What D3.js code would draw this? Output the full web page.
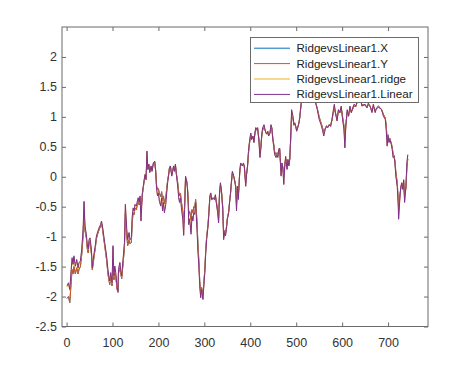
<!DOCTYPE html>
<html><head><meta charset="utf-8">
<script src="https://cdn.jsdelivr.net/npm/d3@7"></script>
<style>body{margin:0;background:#fff}svg{display:block}</style>
</head><body><svg id="c" width="474" height="367"></svg>
<script>
const seriesNames = ["RidgevsLinear1.X","RidgevsLinear1.Y","RidgevsLinear1.ridge","RidgevsLinear1.Linear"];
const xTicks = [0,100,200,300,400,500,600,700];
const yTicks = [-2.5,-2,-1.5,-1,-0.5,0,0.5,1,1.5,2];
const yTickLabels = ["-2.5","-2","-1.5","-1","-0.5","0","0.5","1","1.5","2"];
const sampleIndex = [1,4,7,10,12,14,16,19,22,25,27,30,33,36,38,40,43,45,47,49,51,54,56,58,60,62,65,68,71,74,76,78,81,83,85,87,90,92,94,96,99,101,103,105,107,110,112,113,116,118,120,123,126,128,131,133,136,138,141,143,145,147,149,152,154,156,158,160,162,165,167,169,171,173,175,177,179,181,184,186,189,192,194,196,198,200,202,205,207,209,211,213,216,218,220,222,224,226,229,231,233,235,237,239,242,244,246,248,250,253,255,257,259,261,263,265,266,268,271,273,275,277,279,281,284,286,288,290,292,294,297,299,301,303,305,308,310,312,314,316,319,322,324,327,329,331,333,335,337,340,342,344,346,348,350,353,355,357,359,361,364,366,368,370,372,374,377,379,381,383,385,387,390,392,394,396,398,401,403,406,408,410,412,414,416,419,421,423,425,427,430,432,434,436,438,440,443,445,447,449,451,453,456,458,460,462,464,467,469,471,473,475,477,480,482,484,486,488,490,493,495,497,499,501,504,506,508,510,512,517,521,525,530,534,538,543,546,550,554,557,560,563,566,569,572,575,578,580,583,586,589,592,595,598,601,604,606,608,611,614,617,620,623,626,630,634,638,643,650,654,657,661,665,668,672,675,679,683,686,690,694,696,698,700,702,704,707,709,711,713,715,717,720,722,723,726,728,730,732,734,736,739,741,743];
const valuesLinear = [-1.82,-1.77,-1.88,-1.55,-1.35,-1.46,-1.32,-1.49,-1.38,-1.52,-1.43,-1.41,-1.21,-0.88,-0.41,-0.82,-0.96,-1.13,-1.21,-1.05,-1.02,-1.21,-1.52,-1.38,-1.27,-1.18,-0.99,-0.91,-0.85,-0.80,-0.74,-0.82,-0.99,-1.10,-1.21,-1.32,-1.55,-1.66,-1.74,-1.60,-1.77,-1.15,-1.66,-1.49,-1.60,-1.85,-1.91,-1.55,-1.43,-1.57,-1.66,-1.38,-1.10,-0.46,-0.88,-1.05,-0.93,-1.05,-1.02,-0.66,-0.52,-0.57,-0.46,-0.49,-0.41,-0.35,-0.43,-0.32,-0.74,-0.27,-0.16,-0.05,0.04,-0.05,0.43,0.12,0.21,0.07,0.18,0.09,0.23,0.26,0.09,-0.21,-0.32,-0.27,-0.41,-0.49,-0.35,-0.57,-0.43,-0.60,-0.46,-0.27,-0.10,0.01,0.15,0.18,0.01,0.09,0.18,0.09,0.21,0.04,-0.16,-0.35,-0.43,-0.35,-0.52,-0.71,-0.98,-0.55,0.01,-0.05,-0.18,-0.49,-0.80,-0.71,-0.96,-0.66,-0.74,-0.60,-0.63,-0.43,-0.88,-1.24,-1.49,-1.82,-2.02,-1.88,-2.05,-1.80,-1.60,-1.27,-1.05,-0.82,-0.60,-0.32,-0.27,-0.38,-0.35,-0.38,-0.30,-0.49,-0.60,-0.77,-0.27,-0.10,-0.21,-0.55,-1.05,-0.93,-0.99,-0.88,-0.71,-0.60,-0.41,-0.27,-0.07,0.09,0.01,-0.07,-0.16,-0.57,-0.16,-0.38,0.09,0.23,0.21,0.18,0.23,0.18,-0.16,0.04,0.18,0.42,0.57,0.73,0.62,0.68,0.57,0.73,0.82,0.79,0.82,0.57,0.32,0.46,0.71,0.82,0.87,0.79,0.73,0.71,0.76,0.68,0.73,0.87,0.82,0.62,0.51,0.37,0.32,0.37,0.32,0.46,0.48,0.01,0.23,0.12,-0.13,0.18,0.34,0.12,0.29,0.18,0.29,0.68,1.12,1.01,0.87,0.90,0.84,0.76,0.84,0.90,1.01,1.18,1.29,1.42,1.54,1.42,1.56,1.46,1.34,1.21,1.12,0.96,0.87,0.79,0.68,0.79,0.84,0.82,0.87,0.84,0.96,1.07,1.21,1.04,0.93,1.12,1.07,1.18,0.96,0.79,0.48,0.84,1.12,1.01,1.18,1.07,1.15,1.21,1.18,1.32,1.39,1.18,1.21,1.15,1.23,1.18,1.07,1.21,1.07,1.15,1.18,1.15,1.12,1.01,0.96,0.79,0.51,0.68,0.57,0.62,0.54,0.46,0.32,0.34,0.23,0.01,-0.16,-0.43,-0.71,-0.32,-0.16,-0.10,-0.21,-0.05,-0.43,-0.16,0.23,0.37];
const valuesY = [-2.03,-2.00,-2.10,-1.75,-1.55,-1.62,-1.50,-1.62,-1.52,-1.62,-1.55,-1.50,-1.30,-0.98,-0.55,-0.90,-1.02,-1.20,-1.27,-1.10,-1.08,-1.28,-1.55,-1.45,-1.32,-1.22,-1.03,-0.95,-0.88,-0.83,-0.78,-0.86,-1.04,-1.15,-1.27,-1.38,-1.62,-1.72,-1.80,-1.66,-1.82,-1.40,-1.72,-1.55,-1.66,-1.88,-1.93,-1.62,-1.50,-1.62,-1.70,-1.45,-1.18,-0.62,-0.98,-1.15,-1.05,-1.12,-1.10,-0.75,-0.60,-0.63,-0.52,-0.55,-0.46,-0.40,-0.47,-0.36,-0.58,-0.30,-0.18,-0.07,0.02,-0.03,0.32,0.14,0.20,0.08,0.17,0.10,0.22,0.24,0.10,-0.15,-0.22,-0.20,-0.28,-0.33,-0.25,-0.40,-0.32,-0.45,-0.35,-0.20,-0.06,0.03,0.14,0.17,0.04,0.10,0.17,0.10,0.19,0.06,-0.10,-0.25,-0.32,-0.28,-0.42,-0.58,-0.78,-0.48,-0.05,-0.05,-0.15,-0.40,-0.62,-0.58,-0.72,-0.55,-0.60,-0.50,-0.52,-0.38,-0.75,-1.12,-1.40,-1.75,-1.96,-1.85,-1.98,-1.76,-1.55,-1.22,-1.00,-0.80,-0.58,-0.34,-0.30,-0.38,-0.36,-0.38,-0.32,-0.46,-0.56,-0.70,-0.30,-0.14,-0.22,-0.50,-0.95,-0.90,-0.94,-0.85,-0.70,-0.58,-0.42,-0.28,-0.10,0.06,0.00,-0.06,-0.14,-0.45,-0.16,-0.32,0.06,0.20,0.20,0.18,0.21,0.17,-0.10,0.05,0.17,0.38,0.54,0.70,0.63,0.66,0.60,0.71,0.79,0.78,0.80,0.62,0.40,0.50,0.68,0.78,0.83,0.78,0.74,0.72,0.75,0.70,0.74,0.83,0.80,0.65,0.55,0.42,0.36,0.40,0.36,0.45,0.46,0.10,0.22,0.16,0.00,0.18,0.30,0.16,0.27,0.20,0.30,0.62,1.02,0.97,0.86,0.88,0.84,0.78,0.84,0.90,1.00,1.15,1.27,1.40,1.50,1.42,1.52,1.45,1.34,1.22,1.14,1.00,0.90,0.83,0.74,0.80,0.85,0.83,0.87,0.86,0.95,1.04,1.15,1.05,0.97,1.10,1.07,1.15,1.00,0.85,0.62,0.86,1.08,1.02,1.14,1.08,1.13,1.18,1.17,1.28,1.35,1.20,1.20,1.16,1.20,1.17,1.10,1.18,1.10,1.14,1.16,1.14,1.12,1.04,0.98,0.86,0.62,0.70,0.62,0.64,0.56,0.50,0.38,0.36,0.26,0.08,-0.10,-0.35,-0.55,-0.30,-0.18,-0.12,-0.20,-0.08,-0.32,-0.18,0.15,0.30];
const valuesX = [-2.03,-2.00,-2.10,-1.75,-1.55,-1.62,-1.50,-1.62,-1.52,-1.62,-1.55,-1.50,-1.30,-0.98,-0.55,-0.90,-1.02,-1.20,-1.27,-1.10,-1.08,-1.28,-1.55,-1.45,-1.32,-1.22,-1.03,-0.95,-0.88,-0.83,-0.78,-0.86,-1.04,-1.15,-1.27,-1.38,-1.62,-1.72,-1.80,-1.66,-1.82,-1.40,-1.72,-1.55,-1.66,-1.88,-1.93,-1.62,-1.50,-1.62,-1.70,-1.45,-1.18,-0.62,-0.98,-1.15,-1.05,-1.12,-1.10,-0.75,-0.60,-0.63,-0.52,-0.55,-0.46,-0.40,-0.47,-0.36,-0.58,-0.30,-0.18,-0.07,0.02,-0.03,0.32,0.14,0.20,0.08,0.17,0.10,0.22,0.24,0.10,-0.15,-0.22,-0.20,-0.28,-0.33,-0.25,-0.40,-0.32,-0.45,-0.35,-0.20,-0.06,0.03,0.14,0.17,0.04,0.10,0.17,0.10,0.19,0.06,-0.10,-0.25,-0.32,-0.28,-0.42,-0.58,-0.78,-0.48,-0.05,-0.05,-0.15,-0.40,-0.62,-0.58,-0.72,-0.55,-0.60,-0.50,-0.52,-0.38,-0.75,-1.12,-1.40,-1.75,-1.96,-1.85,-1.98,-1.76,-1.55,-1.22,-1.00,-0.80,-0.58,-0.34,-0.30,-0.38,-0.36,-0.38,-0.32,-0.46,-0.56,-0.70,-0.30,-0.14,-0.22,-0.50,-0.95,-0.90,-0.94,-0.85,-0.70,-0.58,-0.42,-0.28,-0.10,0.06,0.00,-0.06,-0.14,-0.45,-0.16,-0.32,0.06,0.20,0.20,0.18,0.21,0.17,-0.10,0.05,0.17,0.38,0.54,0.70,0.63,0.66,0.60,0.71,0.79,0.78,0.80,0.62,0.40,0.50,0.68,0.78,0.83,0.78,0.74,0.72,0.75,0.70,0.74,0.83,0.80,0.65,0.55,0.42,0.36,0.40,0.36,0.45,0.46,0.10,0.22,0.16,0.00,0.18,0.30,0.16,0.27,0.20,0.30,0.62,1.02,0.97,0.86,0.88,0.84,0.78,0.84,0.90,1.00,1.15,1.27,1.40,1.50,1.42,1.52,1.45,1.34,1.22,1.14,1.00,0.90,0.83,0.74,0.80,0.85,0.83,0.87,0.86,0.95,1.04,1.15,1.05,0.97,1.10,1.07,1.15,1.00,0.85,0.62,0.86,1.08,1.02,1.14,1.08,1.13,1.18,1.17,1.28,1.35,1.20,1.20,1.16,1.20,1.17,1.10,1.18,1.10,1.14,1.16,1.14,1.12,1.04,0.98,0.86,0.62,0.70,0.62,0.64,0.56,0.50,0.38,0.36,0.26,0.08,-0.10,-0.35,-0.55,-0.30,-0.18,-0.12,-0.20,-0.08,-0.32,-0.18,0.15,0.30];
const valuesRidge = [-1.84,-1.79,-1.90,-1.57,-1.37,-1.48,-1.34,-1.51,-1.40,-1.54,-1.45,-1.42,-1.22,-0.89,-0.43,-0.83,-0.97,-1.14,-1.22,-1.06,-1.03,-1.22,-1.52,-1.39,-1.28,-1.19,-1.00,-0.92,-0.85,-0.80,-0.75,-0.82,-1.00,-1.11,-1.22,-1.33,-1.56,-1.67,-1.75,-1.61,-1.78,-1.18,-1.67,-1.50,-1.61,-1.85,-1.91,-1.56,-1.44,-1.58,-1.67,-1.39,-1.11,-0.48,-0.89,-1.06,-0.94,-1.06,-1.03,-0.67,-0.53,-0.58,-0.47,-0.50,-0.42,-0.36,-0.44,-0.33,-0.72,-0.28,-0.16,-0.05,0.04,-0.05,0.41,0.12,0.21,0.07,0.18,0.09,0.23,0.26,0.09,-0.20,-0.31,-0.26,-0.39,-0.47,-0.34,-0.55,-0.42,-0.58,-0.45,-0.26,-0.09,0.01,0.15,0.18,0.02,0.09,0.18,0.09,0.21,0.04,-0.15,-0.33,-0.41,-0.34,-0.50,-0.69,-0.95,-0.54,0.00,-0.05,-0.18,-0.48,-0.77,-0.69,-0.92,-0.65,-0.72,-0.59,-0.62,-0.42,-0.86,-1.22,-1.48,-1.81,-2.01,-1.88,-2.04,-1.80,-1.59,-1.26,-1.04,-0.82,-0.60,-0.32,-0.27,-0.38,-0.35,-0.38,-0.30,-0.49,-0.60,-0.76,-0.27,-0.11,-0.21,-0.54,-1.03,-0.93,-0.98,-0.88,-0.71,-0.60,-0.41,-0.27,-0.08,0.09,0.01,-0.07,-0.16,-0.55,-0.16,-0.37,0.09,0.23,0.21,0.18,0.23,0.18,-0.15,0.04,0.18,0.41,0.57,0.73,0.62,0.68,0.57,0.73,0.82,0.79,0.82,0.58,0.33,0.47,0.71,0.81,0.86,0.79,0.73,0.71,0.76,0.68,0.73,0.86,0.82,0.62,0.52,0.38,0.33,0.38,0.33,0.46,0.48,0.03,0.23,0.13,-0.11,0.18,0.34,0.13,0.29,0.18,0.29,0.67,1.10,1.00,0.87,0.90,0.84,0.76,0.84,0.90,1.01,1.18,1.29,1.42,1.53,1.42,1.55,1.46,1.34,1.21,1.12,0.97,0.88,0.80,0.69,0.79,0.84,0.82,0.87,0.84,0.96,1.07,1.20,1.04,0.94,1.12,1.07,1.17,0.97,0.80,0.50,0.84,1.11,1.01,1.17,1.07,1.15,1.21,1.18,1.31,1.38,1.18,1.21,1.15,1.22,1.18,1.08,1.21,1.08,1.15,1.18,1.15,1.12,1.01,0.96,0.80,0.53,0.68,0.58,0.62,0.54,0.47,0.33,0.34,0.23,0.02,-0.15,-0.42,-0.68,-0.32,-0.16,-0.10,-0.21,-0.05,-0.41,-0.16,0.22,0.36];
const seriesColors = ["#0072BD","#D95319","#EDB120","#7E2F8E"];

const svg = d3.select("#c");
const W = 474, H = 367;
const L = 62, R = 428, T = 27, B = 326.5;
svg.append("rect").attr("width",W).attr("height",H).attr("fill","#fff");

const x = d3.scaleLinear().domain([-10, 787]).range([L, R]);
const y = d3.scaleLinear().domain([-2.5, 2.5]).range([B, T]);

const allSeries = [valuesX, valuesY, valuesRidge, valuesLinear];
const line = d3.line().x(d => x(d[0])).y(d => y(d[1]));
const gLines = svg.append("g");
allSeries.forEach((vals, s) => {
  const pts = sampleIndex.map((k, i) => [k, vals[i]]);
  gLines.append("path").datum(pts).attr("d", line)
    .attr("fill","none").attr("stroke", seriesColors[s])
    .attr("stroke-width", 1).attr("stroke-linejoin","round");
});

const axisColor = "#6b6b6b";
const fontFam = "'Liberation Sans', Arial, sans-serif";
const fs = 12.5;

const gx = svg.append("g").attr("transform",`translate(0,${B})`)
  .call(d3.axisBottom(x).tickValues(xTicks).tickFormat(d3.format("d")).tickSizeInner(-4).tickSizeOuter(0).tickPadding(11.3));
const gxt = svg.append("g").attr("transform",`translate(0,${T})`)
  .call(d3.axisTop(x).tickValues(xTicks).tickFormat("").tickSizeInner(-4).tickSizeOuter(0));
const gy = svg.append("g").attr("transform",`translate(${L},0)`)
  .call(d3.axisLeft(y).tickValues(yTicks).tickFormat((d,i) => yTickLabels[i]).tickSizeInner(-4).tickSizeOuter(0).tickPadding(5));
const gyr = svg.append("g").attr("transform",`translate(${R},0)`)
  .call(d3.axisRight(y).tickValues(yTicks).tickFormat("").tickSizeInner(-4).tickSizeOuter(0));
[gx,gxt,gy,gyr].forEach(g => {
  g.select(".domain").remove();
  g.selectAll(".tick line").attr("stroke", axisColor).attr("stroke-width",1);
  g.selectAll(".tick text").attr("fill","#333").style("font-family", fontFam).style("font-size", fs+"px");
});
svg.append("rect").attr("x",L).attr("y",T).attr("width",R-L).attr("height",B-T)
  .attr("fill","none").attr("stroke",axisColor).attr("stroke-width",1);

// legend
const lg = svg.append("g");
lg.append("rect").attr("x",250.5).attr("y",37.5).attr("width",168).attr("height",65)
  .attr("fill","#fff").attr("stroke",axisColor).attr("stroke-width",1);
seriesNames.forEach((name, i) => {
  const yy = 48.2 + i*15.4;
  lg.append("line").attr("x1",254).attr("x2",290).attr("y1",yy).attr("y2",yy)
    .attr("stroke",seriesColors[i]).attr("stroke-width",1);
  lg.append("text").attr("x",296.5).attr("y",yy).attr("dy","0.35em")
    .attr("fill","#222").style("font-family",fontFam).style("font-size","11.6px").text(name);
});
</script></body></html>
